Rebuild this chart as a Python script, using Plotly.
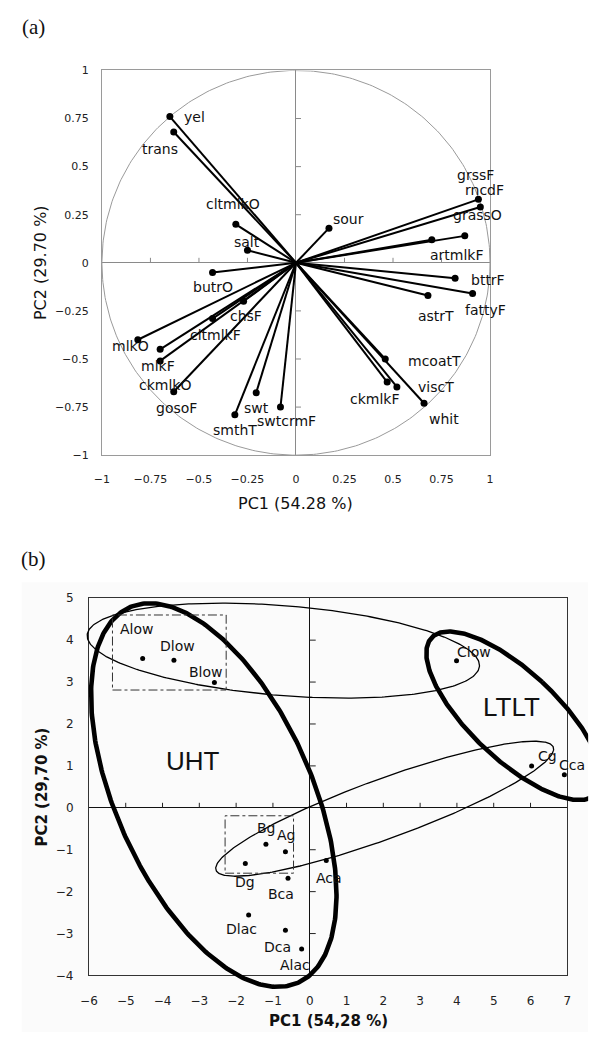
import numpy as np
import plotly.graph_objects as go

# ---------------- data ----------------
loading_vars = ["yel", "trans", "cltmlkO", "salt", "sour", "grssF", "rncdF", "grassO",
                "artmlkF", "bttrF", "fattyF", "astrT", "mcoatT", "ckmlkF", "viscT", "whit",
                "butrO", "chsF", "cltmlkF", "mlkO", "mlkF", "ckmlkO", "gosoF", "smthT",
                "swt", "swtcrmF"]
loading_pc1 = [-0.65, -0.63, -0.31, -0.25, 0.17, 0.94, 0.95, 0.87,
               0.70, 0.82, 0.91, 0.68, 0.46, 0.47, 0.52, 0.66,
               -0.43, -0.27, -0.43, -0.815, -0.70, -0.70, -0.63, -0.315,
               -0.205, -0.08]
loading_pc2 = [0.76, 0.68, 0.20, 0.065, 0.18, 0.33, 0.29, 0.14,
               0.12, -0.08, -0.16, -0.17, -0.50, -0.62, -0.645, -0.73,
               -0.05, -0.20, -0.29, -0.40, -0.45, -0.51, -0.67, -0.79,
               -0.675, -0.75]

sample_names = ["Alow", "Dlow", "Blow", "Clow", "Cg", "Cca", "Bg", "Ag", "Dg",
                "Bca", "Dlac", "Dca", "Alac", "Aca"]
score_pc1 = [-4.54, -3.69, -2.59, 3.99, 6.03, 6.92, -1.19, -0.66, -1.75,
             -0.59, -1.66, -0.66, -0.22, 0.45]
score_pc2 = [3.56, 3.52, 2.99, 3.51, 1.00, 0.79, -0.87, -1.05, -1.33,
             -1.68, -2.56, -2.92, -3.37, -1.26]

a_ticks = [-1, -0.75, -0.5, -0.25, 0, 0.25, 0.5, 0.75, 1]
a_ticklabels = ["\u22121", "\u22120.75", "\u22120.5", "\u22120.25", "0", "0.25", "0.5", "0.75", "1"]
b_xticks = list(range(-6, 8))
b_xticklabels = [("\u2212" + str(-v)) if v < 0 else str(v) for v in b_xticks]
b_yticks = list(range(-4, 6))
b_yticklabels = [("\u2212" + str(-v)) if v < 0 else str(v) for v in b_yticks]

# group ellipses: centre and two conjugate half-diameters (PC units)
ellipse_names = ["UHT", "LTLT", "low", "g"]
ellipse_center = [(-2.607, 0.304), (5.555, 2.196), (-0.717, 3.750), (2.037, -0.022)]
ellipse_u = [(-1.757, -2.064), (0.763, 0.803), (-3.176, -0.652), (-1.089, 0.397)]
ellipse_v = [(2.835, -4.084), (-2.261, 1.844), (4.281, -0.926), (-4.461, -1.561)]

group_names = ["UHT", "LTLT"]
group_label_pos = [(-3.16, 1.11), (5.48, 2.41)]
group_boxes = [(-5.36, -2.27, 2.81, 4.60), (-2.30, -0.44, -1.56, -0.19)]

# ---------------- layout constants (pixels) ----------------
W, H = 599, 1039
A_L, A_R, A_T, A_B = 95.0, 491.7, 64.3, 454.3
B_L, B_R, B_T, B_B = 81.7, 570.7, 599.3, 981.7
BG_L, BG_T, BG_R, BG_B = 13.0, 583.0, 592.0, 1039.0

def xdom(l, r):
    return [l / W, r / W]

def ydom(t, b):
    return [1 - b / H, 1 - t / H]

ell_width = {"UHT": 4.6, "LTLT": 4.6, "low": 1.3, "g": 1.3}

# label offsets (pixels; +x right, +y down)
a_off = {"yel": (25, 0), "trans": (-14, 17), "cltmlkO": (-3, -20), "salt": (0, -8),
         "sour": (20, -9), "grssF": (-3, -24), "rncdF": (4, -17), "grassO": (13, -21),
         "artmlkF": (25, 15), "bttrF": (33, 2), "fattyF": (13, 16), "astrT": (8, 20),
         "mcoatT": (49, 2), "viscT": (39, 0), "ckmlkF": (-12, 17), "whit": (20, 16),
         "butrO": (0, 15), "chsF": (2, 15), "cltmlkF": (3, 16), "mlkO": (-7, 6),
         "mlkF": (-2, 17), "ckmlkO": (5, 24), "gosoF": (3, 16), "smthT": (0, 15),
         "swt": (0, 15), "swtcrmF": (6, 14)}
b_off = {"Alow": (-6, -30), "Dlow": (4, -14), "Blow": (-8, -10), "Clow": (17, -9),
         "Cg": (16, -10), "Cca": (8, -10), "Bg": (1, -16), "Ag": (1, -17), "Dg": (0, 18),
         "Bca": (-7, 16), "Dlac": (-7, 14), "Dca": (-8, 17), "Alac": (-7, 16), "Aca": (3, 17)}

SANS = "DejaVu Sans"
fig = go.Figure()

# ---- panel (a) ----
th = np.linspace(0, 2 * np.pi, 400)
fig.add_trace(go.Scatter(x=np.cos(th), y=np.sin(th), mode="lines",
                         line=dict(color="#9a9a9a", width=1), xaxis="x", yaxis="y", hoverinfo="skip"))
lx, ly = [], []
for px_, py_ in zip(loading_pc1, loading_pc2):
    lx += [0, px_, None]
    ly += [0, py_, None]
fig.add_trace(go.Scatter(x=lx, y=ly, mode="lines", line=dict(color="black", width=2),
                         xaxis="x", yaxis="y", hoverinfo="skip"))
fig.add_trace(go.Scatter(x=loading_pc1, y=loading_pc2, mode="markers", text=loading_vars,
                         marker=dict(color="black", size=7), xaxis="x", yaxis="y"))

# ---- panel (b) ----
for k, (cx, cy), (ux, uy), (vx, vy) in zip(ellipse_names, ellipse_center, ellipse_u, ellipse_v):
    t = np.linspace(0, 2 * np.pi, 400)
    fig.add_trace(go.Scatter(x=cx + ux * np.cos(t) + vx * np.sin(t),
                             y=cy + uy * np.cos(t) + vy * np.sin(t), mode="lines",
                             line=dict(color="black", width=ell_width[k]),
                             xaxis="x5", yaxis="y5", hoverinfo="skip"))
fig.add_trace(go.Scatter(x=score_pc1, y=score_pc2, mode="markers", text=sample_names,
                         marker=dict(color="black", size=5), xaxis="x2", yaxis="y2"))

ann = []
for n, x, y in zip(loading_vars, loading_pc1, loading_pc2):
    dx, dy = a_off[n]
    ann.append(dict(x=x, y=y, xref="x", yref="y", text=n, showarrow=False, xshift=dx, yshift=-dy,
                    font=dict(family=SANS, size=14, color="#111"), xanchor="center", yanchor="middle"))
for n, x, y in zip(sample_names, score_pc1, score_pc2):
    dx, dy = b_off[n]
    ann.append(dict(x=x, y=y, xref="x2", yref="y2", text=n, showarrow=False, xshift=dx, yshift=-dy,
                    font=dict(family=SANS, size=14, color="#111"), xanchor="center", yanchor="middle"))
for n, (x, y) in zip(group_names, group_label_pos):
    ann.append(dict(x=x, y=y, xref="x2", yref="y2", text=n, showarrow=False,
                    font=dict(family="Liberation Sans, Arial", size=26, color="#111"),
                    xanchor="center", yanchor="middle"))
# axis titles and panel letters
ann += [
    dict(x=(A_L + A_R) / 2 / W, y=1 - 503 / H, xref="paper", yref="paper", text="PC1 (54.28 %)",
         showarrow=False, font=dict(family=SANS, size=16, color="#111"), xanchor="center", yanchor="middle"),
    dict(x=33 / W, y=1 - (A_T + A_B) / 2 / H, xref="paper", yref="paper", text="PC2 (29.70 %)",
         showarrow=False, textangle=-90, font=dict(family=SANS, size=16, color="#111"),
         xanchor="center", yanchor="middle"),
    dict(x=(B_L + B_R) / 2 / W, y=1 - 1028 / H, xref="paper", yref="paper", text="<b>PC1 (54,28 %)</b>",
         showarrow=False, font=dict(family=SANS, size=15, color="#111"), xanchor="center", yanchor="middle"),
    dict(x=34 / W, y=1 - 791 / H, xref="paper", yref="paper", text="<b>PC2 (29,70 %)</b>",
         showarrow=False, textangle=-90, font=dict(family=SANS, size=15, color="#111"),
         xanchor="center", yanchor="middle"),
    dict(x=25 / W, y=1 - 20 / H, xref="paper", yref="paper", text="(a)", showarrow=False,
         font=dict(family="Liberation Serif", size=21, color="#111"), xanchor="center", yanchor="middle"),
    dict(x=25 / W, y=1 - 560 / H, xref="paper", yref="paper", text="(b)", showarrow=False,
         font=dict(family="Liberation Serif", size=21, color="#111"), xanchor="center", yanchor="middle"),
]

shapes = [dict(type="rect", xref="paper", yref="paper", x0=BG_L / W, x1=BG_R / W,
               y0=1 - BG_B / H, y1=1 - BG_T / H, fillcolor="#fbfbfb", line=dict(width=0), layer="below")]
for x0, x1, y0, y1 in group_boxes:
    shapes.append(dict(type="rect", xref="x2", yref="y2", x0=x0, x1=x1, y0=y0, y1=y1,
                       line=dict(color="#333", width=1, dash="dashdot")))
# tick marks on the zero lines
for v in a_ticks:
    if v in (0, -1, 1):
        continue
    shapes.append(dict(type="line", xref="x", yref="y", ysizemode="pixel", yanchor=0, x0=v, x1=v,
                       y0=0, y1=5, line=dict(color="#8a8a8a", width=1)))
    shapes.append(dict(type="line", xref="x", yref="y", xsizemode="pixel", xanchor=0, y0=v, y1=v,
                       x0=0, x1=5, line=dict(color="#8a8a8a", width=1)))
for v in b_xticks:
    if v in (0, b_xticks[0], b_xticks[-1]):
        continue
    shapes.append(dict(type="line", xref="x2", yref="y2", ysizemode="pixel", yanchor=0, x0=v, x1=v,
                       y0=0, y1=5, line=dict(color="#222", width=1)))
for v in b_yticks:
    if v in (0, b_yticks[0], b_yticks[-1]):
        continue
    shapes.append(dict(type="line", xref="x2", yref="y2", xsizemode="pixel", xanchor=0, y0=v, y1=v,
                       x0=0, x1=6, line=dict(color="#222", width=1)))

def axis(dom, rng, vals, text, color, zcolor, anchor, ticklen, size):
    return dict(domain=dom, range=rng, tickmode="array", tickvals=vals, ticktext=text,
                showline=True, mirror=True, linecolor=color, linewidth=1, showgrid=False,
                zeroline=True, zerolinecolor=zcolor, zerolinewidth=1, ticks="outside",
                ticklen=ticklen, tickcolor="rgba(0,0,0,0)", anchor=anchor,
                tickfont=dict(family=SANS, size=size, color="#222"), fixedrange=True)

sx = (B_R - B_L) / 13.0
sy = (B_B - B_T) / 9.0
fig.update_layout(
    width=W, height=H, margin=dict(l=0, r=0, t=0, b=0),
    paper_bgcolor="white", plot_bgcolor="rgba(0,0,0,0)", showlegend=False,
    xaxis=axis(xdom(A_L, A_R), [-1, 1], a_ticks, a_ticklabels, "#9a9a9a", "#8a8a8a", "y", 14, 11),
    yaxis=axis(ydom(A_T, A_B), [-1, 1], a_ticks, a_ticklabels, "#9a9a9a", "#8a8a8a", "x", 10, 11),
    xaxis2=axis(xdom(B_L, B_R), [-6, 7], b_xticks, b_xticklabels, "#333", "#111", "y2", 14, 12),
    yaxis2=axis(ydom(B_T, B_B), [-4, 5], b_yticks, b_yticklabels, "#333", "#111", "x2", 12, 12),
    xaxis5=dict(domain=xdom(BG_L, BG_R), range=[-6 - (B_L - BG_L) / sx, 7 + (BG_R - B_R) / sx],
                visible=False, anchor="y5", fixedrange=True),
    yaxis5=dict(domain=ydom(BG_T, BG_B), range=[-4 - (BG_B - B_B) / sy, 5 + (B_T - BG_T) / sy],
                visible=False, anchor="x5", fixedrange=True),
    annotations=ann, shapes=shapes,
)
fig.write_html("out.html")
